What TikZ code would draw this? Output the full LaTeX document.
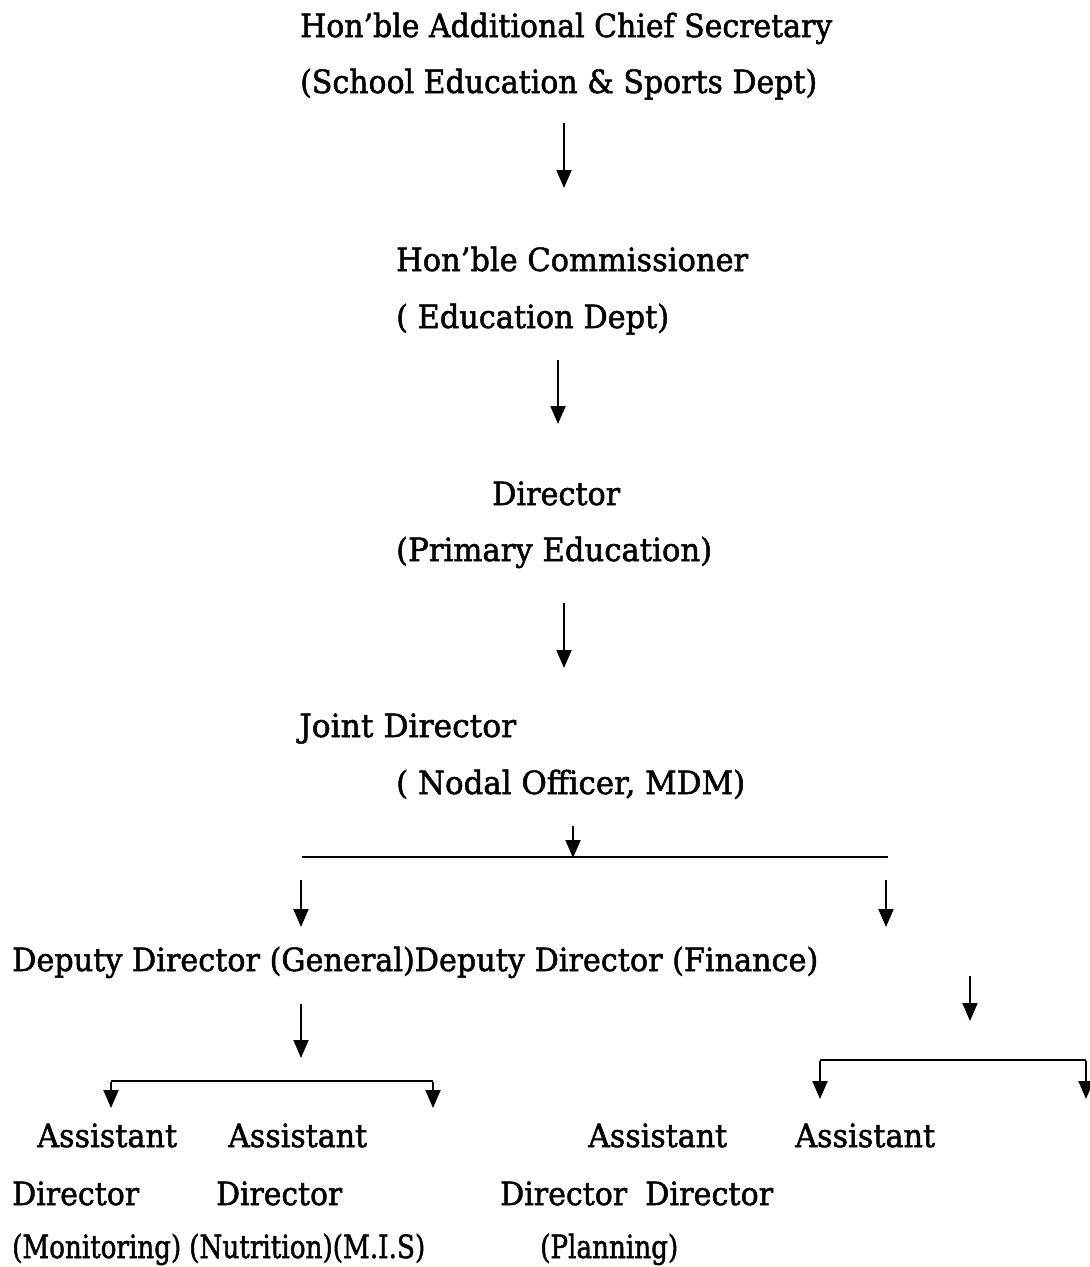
\documentclass[tikz,border=0pt]{standalone}
\usepackage{fontspec}
\setmainfont{DejaVu Serif}[FakeBold=1.6]
\usetikzlibrary{arrows.meta}
\newcommand\fitw[2]{\setbox0\hbox{#2}\pgfmathsetmacro\fitratio{#1/\the\wd0}\scalebox{\fitratio}[1]{\box0}}
\tikzset{
  txt/.style={anchor=base west, inner sep=0pt, font=\fontsize{32}{36}\selectfont},
  arr/.style={line width=2pt, -{Triangle[width=15pt,length=18pt]}},
  ln/.style={line width=2pt}
}
\begin{document}
\begin{tikzpicture}[x=1pt,y=-1pt]
\fill[white] (0,0) rectangle (1090,1267);
\useasboundingbox (0,0) rectangle (1090,1267);
% texts
\node[txt] (t1) at (300,37) {\fitw{532}{Hon’ble Additional Chief Secretary}};
\node[txt] (t2) at (300,93) {\fitw{517}{(School Education \& Sports Dept)}};
\node[txt] (t3) at (396,271) {\fitw{352}{Hon’ble Commissioner}};
\node[txt] (t4) at (396,328) {\fitw{273}{( Education Dept)}};
\node[txt] (t5) at (492,505) {\fitw{128}{Director}};
\node[txt] (t6) at (396,561) {\fitw{316}{(Primary Education)}};
\node[txt] (t7) at (299,737) {\fitw{217}{Joint Director}};
\node[txt] (t8) at (396,794) {\fitw{349}{( Nodal Officer, MDM)}};
\node[txt] (t9) at (12,971) {\fitw{806}{Deputy Director (General)Deputy Director (Finance)}};
\node[txt] (a1) at (37,1147) {\fitw{140}{Assistant}};
\node[txt] (a2) at (228,1147) {\fitw{139}{Assistant}};
\node[txt] (a3) at (588,1147) {\fitw{139}{Assistant}};
\node[txt] (a4) at (795,1147) {\fitw{140}{Assistant}};
\node[txt] (d1) at (12,1205) {\fitw{127}{Director}};
\node[txt] (d2) at (216,1205) {\fitw{126}{Director}};
\node[txt] (d3) at (500,1205) {\fitw{127}{Director}};
\node[txt] (d4) at (645,1205) {\fitw{128}{Director}};
\node[txt] (p1) at (12,1258) {\fitw{169}{(Monitoring)}};
\node[txt] (p2) at (189,1258) {\fitw{236}{(Nutrition)(M.I.S)}};
\node[txt] (p3) at (540,1258) {\fitw{138}{(Planning)}};
% arrow coordinates
\coordinate (c1a) at (564,123); \coordinate (c1b) at (564,188);
\coordinate (c2a) at (558,360); \coordinate (c2b) at (558,424);
\coordinate (c3a) at (564,603); \coordinate (c3b) at (564,668);
\coordinate (c4a) at (573,826); \coordinate (c4b) at (573,858);
\coordinate (hl) at (302,857); \coordinate (hr) at (888,857);
\coordinate (c5a) at (301,880); \coordinate (c5b) at (301,927);
\coordinate (c6a) at (886,880); \coordinate (c6b) at (886,927);
\coordinate (c7a) at (970,976); \coordinate (c7b) at (970,1021);
\coordinate (c8a) at (301,1004); \coordinate (c8b) at (301,1058);
\coordinate (lbl) at (111,1081); \coordinate (lbr) at (433,1081);
\coordinate (lbl2) at (111,1108); \coordinate (lbr2) at (433,1108);
\coordinate (rbl) at (820,1060); \coordinate (rbr) at (1086,1060);
\coordinate (rbl2) at (820,1099); \coordinate (rbr2) at (1086,1099);
% connectors
\draw[arr] (c1a) -- (c1b);
\draw[arr] (c2a) -- (c2b);
\draw[arr] (c3a) -- (c3b);
\draw[arr] (c4a) -- (c4b);
\draw[ln] (hl) -- (hr);
\draw[arr] (c5a) -- (c5b);
\draw[arr] (c6a) -- (c6b);
\draw[arr] (c7a) -- (c7b);
\draw[arr] (c8a) -- (c8b);
\draw[ln] (lbl) -- (lbr);
\draw[arr] ([yshift=-1pt]lbl) -- (lbl2);
\draw[arr] ([yshift=-1pt]lbr) -- (lbr2);
\draw[ln] (rbl) -- (rbr);
\draw[arr] ([yshift=-1pt]rbl) -- (rbl2);
\draw[arr] ([yshift=-1pt]rbr) -- (rbr2);
\end{tikzpicture}
\end{document}
